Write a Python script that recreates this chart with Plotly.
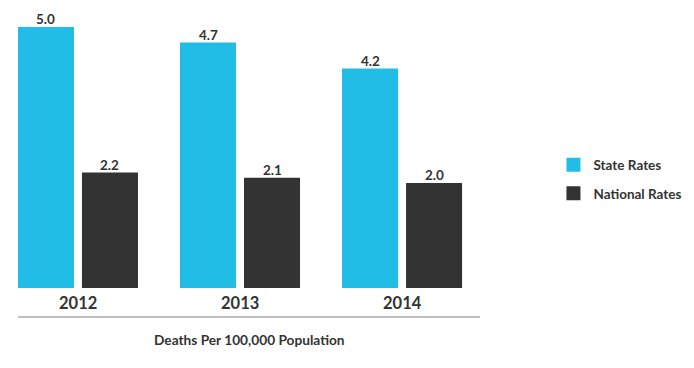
import plotly.graph_objects as go

years = ["2012", "2013", "2014"]
state_rates = [5.0, 4.7, 4.2]
national_rates = [2.2, 2.1, 2.0]

cyan = "#22BDE6"
dark = "#333333"
font_family = "Lato, 'Open Sans', sans-serif"

BARGAP = 0.2099
GROUPGAP = 0.156
CAT_PX = 162  # pixels per category

fig = go.Figure()
fig.add_trace(go.Bar(
    x=years, y=state_rates, name="State Rates", marker_color=cyan,
    marker_line=dict(color=cyan, width=2),
    legendgroup="a",
))
fig.add_trace(go.Bar(
    x=years, y=national_rates, name="National Rates", marker_color=dark,
    marker_line=dict(color=dark, width=2),
    legendgroup="b",
))

# value labels above bars (category index positions, offset to each bar slot)
slot = (1 - BARGAP) * CAT_PX / 2
for series, sign in ((state_rates, -1), (national_rates, 1)):
    for i, v in enumerate(series):
        fig.add_annotation(x=i, y=v, xref="x", yref="y", text=f"<b>{v:.1f}</b>",
                           showarrow=False, yanchor="bottom", yshift=-1,
                           xshift=sign * slot / 2,
                           font=dict(size=13.5, color=dark, family=font_family))

for i, y in enumerate(years):
    fig.add_annotation(x=i, y=0, xref="x", yref="paper", text=f"<b>{y}</b>",
                       showarrow=False, yanchor="middle", yshift=-15,
                       font=dict(size=16.5, color=dark, family=font_family))

fig.add_annotation(x=0.5, y=0, xref="paper", yref="paper",
                   text="<b>Deaths Per 100,000 Population</b>", showarrow=False,
                   yanchor="middle", yshift=-51,
                   font=dict(size=13.7, color=dark, family=font_family))

fig.add_shape(type="line", xref="paper", yref="paper", x0=0, x1=1,
              ysizemode="pixel", yanchor=0, y0=-29, y1=-29,
              line=dict(color="#aaaaaa", width=1.5))

fig.update_layout(
    width=694, height=368,
    margin=dict(l=10, r=222, t=12, b=88),
    plot_bgcolor="white", paper_bgcolor="white",
    barmode="group", bargap=BARGAP, bargroupgap=GROUPGAP,
    xaxis=dict(type="category", range=[-0.370, 2.481], showticklabels=False,
               showgrid=False, zeroline=False, showline=False),
    yaxis=dict(range=[0, 5.154], visible=False),
    legend=dict(x=1.159, xanchor="left", y=0.405, yanchor="middle",
                font=dict(size=13.5, color=dark, family=font_family, weight="bold"),
                tracegroupgap=8, traceorder="grouped", itemwidth=30),
    showlegend=True,
    font=dict(family=font_family),
)

fig.write_html("out.html")
